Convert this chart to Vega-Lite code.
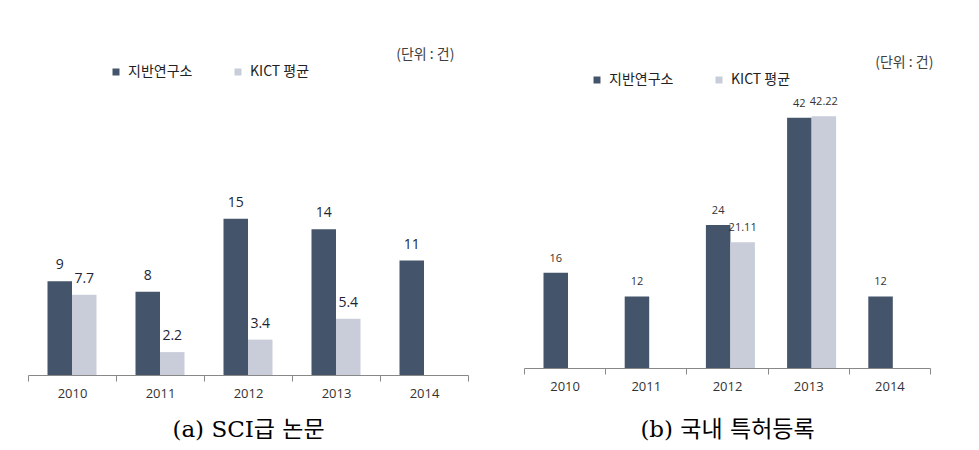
{
  "$schema": "https://vega.github.io/schema/vega-lite/v6.json",
  "padding": {"left": 27, "top": 48, "right": 10, "bottom": 5},
  "background": "white",
  "config": {
    "view": {"stroke": null},
    "font": "Open Sans, Noto Sans CJK KR",
    "axis": {"labelFont": "Open Sans, Noto Sans CJK KR", "titleFont": "DejaVu Serif, Noto Sans CJK KR"}
  },
  "spacing": 54,
  "resolve": {"legend": {"color": "independent"}, "scale": {"color": "independent"}},
  "hconcat": [
    {
      "width": 440,
      "height": 280,
      "title": {"text": "(단위 : 건)", "anchor": "end", "orient": "top", "fontSize": 14, "fontWeight": "normal", "color": "#404040", "dx": -14, "offset": 3, "font": "Noto Sans CJK KR"},
      "data": {"values": [
        {"year": "2010", "group": "지반연구소", "value": 9},
        {"year": "2010", "group": "KICT 평균", "value": 7.7},
        {"year": "2011", "group": "지반연구소", "value": 8},
        {"year": "2011", "group": "KICT 평균", "value": 2.2},
        {"year": "2012", "group": "지반연구소", "value": 15},
        {"year": "2012", "group": "KICT 평균", "value": 3.4},
        {"year": "2013", "group": "지반연구소", "value": 14},
        {"year": "2013", "group": "KICT 평균", "value": 5.4},
        {"year": "2014", "group": "지반연구소", "value": 11}
      ]},
      "encoding": {
        "x": {"field": "year", "type": "nominal", "scale": {"paddingInner": 0, "paddingOuter": 0},
          "axis": {"title": "(a) SCI급 논문", "labelAngle": 0, "labelFontSize": 13, "labelColor": "#333", "labelPadding": 6,
            "tickBand": "extent", "tickSize": 6, "tickColor": "#888", "domainColor": "#888", "grid": false,
            "titleFontSize": 23, "titleFontWeight": "normal", "titleColor": "#000", "titlePadding": 18}},
        "xOffset": {"field": "group", "type": "nominal", "scale": {"domain": ["지반연구소", "KICT 평균"], "paddingInner": 0, "paddingOuter": 0.796}},
        "y": {"field": "value", "type": "quantitative", "scale": {"domain": [0, 26.9], "nice": false}, "axis": null}
      },
      "layer": [
        {
          "mark": {"type": "bar"},
          "encoding": {
            "color": {"field": "group", "type": "nominal",
              "scale": {"domain": ["지반연구소", "KICT 평균"], "range": ["#44546A", "#C8CDD9"]},
              "legend": {"orient": "none", "legendX": 81, "legendY": -30, "direction": "horizontal", "title": null,
                "symbolType": "square", "symbolSize": 49, "symbolStrokeWidth": 0, "labelFontSize": 14,
                "labelFont": "Noto Sans CJK KR", "labelColor": "#222", "columnPadding": 38, "labelOffset": 5}}
          }
        },
        {
          "mark": {"type": "text", "baseline": "middle", "dy": -16, "fontSize": 14, "color": "#1e2433"},
          "encoding": {"text": {"field": "value", "type": "quantitative"}}
        }
      ]
    },
    {
      "width": 406,
      "height": 273,
      "title": {"text": "(단위 : 건)", "anchor": "end", "orient": "top", "fontSize": 14, "fontWeight": "normal", "color": "#404040", "dx": 3, "offset": 3, "font": "Noto Sans CJK KR"},
      "data": {"values": [
        {"year": "2010", "group": "지반연구소", "value": 16},
        {"year": "2011", "group": "지반연구소", "value": 12},
        {"year": "2012", "group": "지반연구소", "value": 24},
        {"year": "2012", "group": "KICT 평균", "value": 21.11},
        {"year": "2013", "group": "지반연구소", "value": 42},
        {"year": "2013", "group": "KICT 평균", "value": 42.22},
        {"year": "2014", "group": "지반연구소", "value": 12}
      ]},
      "encoding": {
        "x": {"field": "year", "type": "nominal", "scale": {"paddingInner": 0, "paddingOuter": 0},
          "axis": {"title": "(b) 국내 특허등록", "labelAngle": 0, "labelFontSize": 13, "labelColor": "#333", "labelPadding": 6,
            "tickBand": "extent", "tickSize": 6, "tickColor": "#888", "domainColor": "#888", "grid": false,
            "titleFontSize": 23, "titleFontWeight": "normal", "titleColor": "#000", "titlePadding": 25}},
        "xOffset": {"field": "group", "type": "nominal", "scale": {"domain": ["지반연구소", "KICT 평균"], "paddingInner": 0, "paddingOuter": 0.728}},
        "y": {"field": "value", "type": "quantitative", "scale": {"domain": [0, 45.8], "nice": false}, "axis": null}
      },
      "layer": [
        {
          "mark": {"type": "bar"},
          "encoding": {
            "color": {"field": "group", "type": "nominal",
              "scale": {"domain": ["지반연구소", "KICT 평균"], "range": ["#44546A", "#C8CDD9"]},
              "legend": {"orient": "none", "legendX": 66, "legendY": -22, "direction": "horizontal", "title": null,
                "symbolType": "square", "symbolSize": 49, "symbolStrokeWidth": 0, "labelFontSize": 14,
                "labelFont": "Noto Sans CJK KR", "labelColor": "#222", "columnPadding": 38, "labelOffset": 5}}
          }
        },
        {
          "mark": {"type": "text", "baseline": "middle", "dy": -14, "fontSize": 11, "color": "#333"},
          "encoding": {"text": {"field": "value", "type": "quantitative"}}
        }
      ]
    }
  ]
}
